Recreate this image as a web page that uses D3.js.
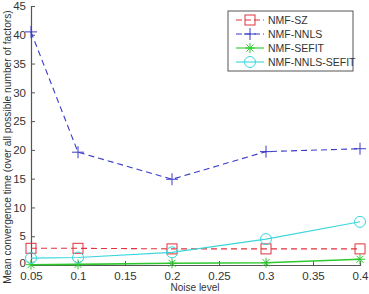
<!DOCTYPE html>
<html>
<head>
<meta charset="utf-8">
<script src="https://cdn.jsdelivr.net/npm/d3@7"></script>
<style>
  body { margin: 0; background: #fff; }
  text { font-family: "Liberation Sans", Arial, sans-serif; }
</style>
</head>
<body>
<svg id="svg" width="369" height="294"></svg>
<script>
const noise = [0.05, 0.1, 0.2, 0.3, 0.4];
const nmfSZ = [2.9, 2.9, 2.8, 2.8, 2.8];
const nmfNNLS = [40.5, 19.6, 14.9, 19.7, 20.2];
const nmfSEFIT = [0.05, 0.1, 0.3, 0.4, 1.0];
const nmfNNLSSEFIT = [1.2, 1.3, 2.2, 4.5, 7.5];
const xTicks = [0.05, 0.1, 0.15, 0.2, 0.25, 0.3, 0.35, 0.4];
const yTicks = [0, 5, 10, 15, 20, 25, 30, 35, 40, 45];

const series = [
    { name: "NMF-SZ", values: nmfSZ, color: "#e0323c", dash: "6,4", marker: "square" },
    { name: "NMF-NNLS", values: nmfNNLS, color: "#3a3ac8", dash: "6,4", marker: "plus" },
    { name: "NMF-SEFIT", values: nmfSEFIT, color: "#2ec82e", dash: null, marker: "star" },
    { name: "NMF-NNLS-SEFIT", values: nmfNNLSSEFIT, color: "#3ad6dc", dash: null, marker: "circle" }
];

const svg = d3.select("#svg");
const x = d3.scaleLinear().domain([0.05, 0.4]).range([31, 360]);
const y = d3.scaleLinear().domain([0, 45]).range([265, 6]);

// axes, ticks inward like matlab
const xAxis = svg.append("g").attr("transform", "translate(0,265)")
    .call(d3.axisBottom(x).tickValues(xTicks).tickSize(-4).tickPadding(7).tickFormat(d => d3.format("")(d)));
const yAxis = svg.append("g").attr("transform", "translate(31,0)")
    .call(d3.axisLeft(y).tickValues(yTicks).tickSize(-4).tickPadding(5));
[xAxis, yAxis].forEach(a => {
    a.select(".domain").attr("stroke", "#555").attr("stroke-width", 1.2);
    a.selectAll(".tick line").attr("stroke", "#555");
    a.selectAll(".tick text").attr("font-size", 11.5).attr("fill", "#333")
        .style("font-family", "Liberation Sans, Arial, sans-serif");
});
// the "0" label sits a bit higher so it clears "0.05"
yAxis.selectAll(".tick text").filter(d => d === 0).attr("dy", "0.1em");

svg.append("text")
    .attr("x", 195).attr("y", 291)
    .attr("text-anchor", "middle")
    .attr("font-size", 10)
    .attr("fill", "#333")
    .text("Noise level");
svg.append("text")
    .attr("transform", "translate(11,147) rotate(-90)")
    .attr("text-anchor", "middle")
    .attr("font-size", 10.2)
    .attr("fill", "#333")
    .text("Mean convergence time (over all possible number of factors)");

function drawMarker(g, type, color) {
    if (type === "square") {
        g.append("rect").attr("x", -5).attr("y", -5).attr("width", 10).attr("height", 10)
            .attr("fill", "none").attr("stroke", color).attr("stroke-width", 1);
    } else if (type === "plus") {
        g.append("path").attr("d", "M-6,0H6M0,-6V6").attr("stroke", color).attr("stroke-width", 1);
    } else if (type === "star") {
        g.append("path").attr("d", "M-5,0H5M0,-5V5M-3.5,-3.5L3.5,3.5M-3.5,3.5L3.5,-3.5")
            .attr("stroke", color).attr("stroke-width", 1);
    } else if (type === "circle") {
        g.append("circle").attr("r", 5.5).attr("fill", "none").attr("stroke", color).attr("stroke-width", 1);
    }
}

const line = d3.line().x(d => x(d[0])).y(d => y(d[1]));

series.forEach(s => {
    const pts = noise.map((n, i) => [n, s.values[i]]);
    svg.append("path")
        .datum(pts)
        .attr("d", line)
        .attr("fill", "none")
        .attr("stroke", s.color)
        .attr("stroke-width", s.marker === "star" ? 1.6 : 1.1)
        .attr("stroke-dasharray", s.dash);
    pts.forEach(p => {
        const g = svg.append("g").attr("transform", `translate(${x(p[0])},${y(p[1])})`);
        drawMarker(g, s.marker, s.color);
    });
});

// legend
const legend = svg.append("g").attr("transform", "translate(228,11)");
legend.append("rect")
    .attr("width", 125).attr("height", 60)
    .attr("fill", "#fff").attr("stroke", "#555").attr("stroke-width", 1);
series.forEach((s, i) => {
    const ly = 9 + i * 14;
    legend.append("line")
        .attr("x1", 8).attr("x2", 36).attr("y1", ly).attr("y2", ly)
        .attr("stroke", s.color).attr("stroke-width", 1.1)
        .attr("stroke-dasharray", s.dash ? "6,3" : null);
    const g = legend.append("g").attr("transform", `translate(22,${ly})`);
    drawMarker(g, s.marker, s.color);
    legend.append("text")
        .attr("x", 40).attr("y", ly + 4)
        .attr("font-size", 10.5)
        .attr("fill", "#333")
        .text(s.name);
});
</script>
</body>
</html>
